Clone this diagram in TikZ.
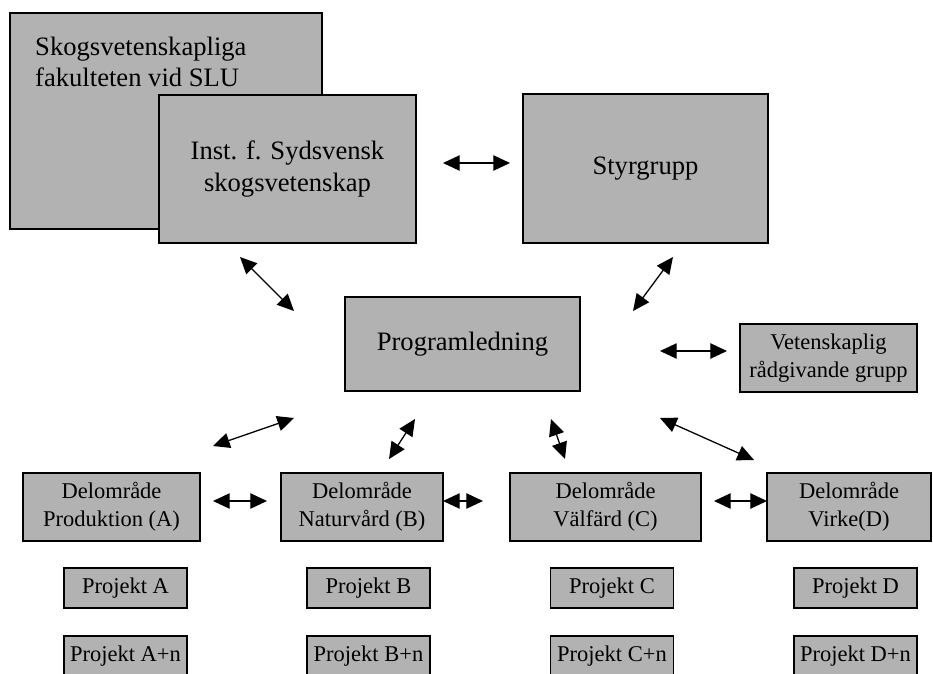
\documentclass[tikz,border=0pt]{standalone}
\usepackage{fontspec}
\setmainfont{Liberation Serif}
\usetikzlibrary{arrows.meta,positioning}
\definecolor{boxgray}{RGB}{178,178,178}

\begin{document}
\begin{tikzpicture}[
  x=0.03cm,y=-0.03cm,
  bigfont/.style={font=\fontsize{22.7}{26.5}\selectfont},
  smallfont/.style={font=\fontsize{19.2}{23.5}\selectfont},
  box/.style={draw,fill=boxgray,line width=0.9pt,inner sep=0pt,align=center},
  unit/.style={box,bigfont},
  area/.style={box,smallfont,minimum height=2.04cm},
  proj/.style={box,smallfont,minimum width=3.69cm,minimum height=1.2cm},
  arrow/.style={<->,>={Triangle[length=5mm,width=4.6mm]},line width=1.1pt}
]
\clip (0,0) rectangle (933,673);

% faculty, institution, steering group
\node[unit,minimum width=9.36cm,minimum height=6.48cm] (slu) at (166,121) {};
\node[bigfont,anchor=north west,align=left,inner sep=0pt] (slutext) at (35,37)
 {Skogsvetenskapliga\\fakulteten vid SLU};
\node[unit,minimum width=7.71cm,minimum height=4.44cm] (inst) at (287.5,169)
 {Inst. f. Sydsvensk\\skogsvetenskap};
\node[unit,minimum width=7.35cm,minimum height=4.47cm] (styr) at (645.5,168.5) {Styrgrupp};

% programme management and advisory group
\node[unit,minimum width=7.05cm,minimum height=2.82cm] (prog) at (462.5,344) {Programledning};
\node[area,minimum width=5.31cm] (vet) at (828.5,358) {Vetenskaplig\\rådgivande grupp};

% sub-areas
\node[area,minimum width=5.31cm] (delA) at (111.5,507) {Delområde\\Produktion (A)};
\node[area,minimum width=4.86cm] (delB) at (362,507) {Delområde\\Naturvård (B)};
\node[area,minimum width=5.73cm] (delC) at (605.5,507) {Delområde\\Välfärd (C)};
\node[area,minimum width=4.92cm] (delD) at (849,507) {Delområde\\Virke(D)};

% projects
\node[proj] (projA) at (125.5,588) {Projekt A};
\node[proj] (projB) at (368.5,588) {Projekt B};
\node[proj] (projC) at (612,588) {Projekt C};
\node[proj] (projD) at (855.5,588) {Projekt D};
\node[proj] (projAn) at (125.5,656) {Projekt A+n};
\node[proj] (projBn) at (368.5,656) {Projekt B+n};
\node[proj] (projCn) at (612,656) {Projekt C+n};
\node[proj] (projDn) at (855.5,656) {Projekt D+n};

% arrow ends
\coordinate (instE) at (443,163);
\coordinate (styrW) at (510,163);
\coordinate (instS) at (240,257);
\coordinate (progNW) at (294,311);
\coordinate (styrS) at (673,257);
\coordinate (progNE) at (633,311);
\coordinate (progE) at (660,351);
\coordinate (vetW) at (727,351);
\coordinate (progSW) at (294,418);
\coordinate (delAN) at (213,446);
\coordinate (progSB) at (415,419);
\coordinate (delBN) at (389,459);
\coordinate (progSC) at (551,419);
\coordinate (delCN) at (565,459);
\coordinate (progSE) at (660,418);
\coordinate (delDN) at (754,460);
\coordinate (delAE) at (213,501);
\coordinate (delBW) at (267,501);
\coordinate (delBE) at (443,501);
\coordinate (delCW) at (483,501);
\coordinate (delCE) at (714,501);
\coordinate (delDW) at (767,501);

\draw[arrow] (instE) -- (styrW);
\draw[arrow] (instS) -- (progNW);
\draw[arrow] (styrS) -- (progNE);
\draw[arrow] (progE) -- (vetW);
\draw[arrow] (progSW) -- (delAN);
\draw[arrow] (progSB) -- (delBN);
\draw[arrow] (progSC) -- (delCN);
\draw[arrow] (progSE) -- (delDN);
\draw[arrow] (delAE) -- (delBW);
\draw[arrow] (delBE) -- (delCW);
\draw[arrow] (delCE) -- (delDW);
\end{tikzpicture}
\end{document}
